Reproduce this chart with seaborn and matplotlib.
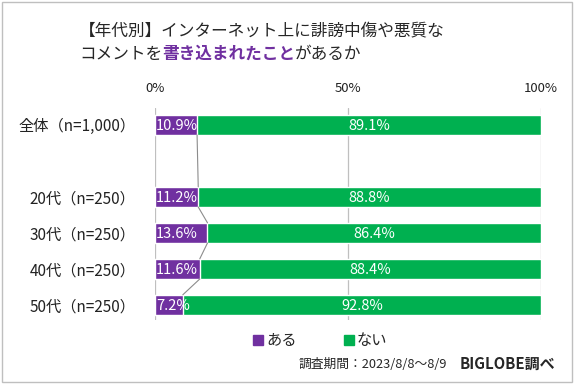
import matplotlib
matplotlib.use("Agg")
import matplotlib.pyplot as plt
import pandas as pd
import seaborn as sns
from matplotlib.patches import Rectangle
from matplotlib.lines import Line2D

# データ
categories = ["全体（n=1,000）", "", "20代（n=250）", "30代（n=250）", "40代（n=250）", "50代（n=250）"]
aru = [10.9, None, 11.2, 13.6, 11.6, 7.2]
nai = [89.1, None, 88.8, 86.4, 88.4, 92.8]
ticks = [0, 50, 100]
tick_labels = ["0%", "50%", "100%"]

PURPLE = "#7030A0"
GREEN = "#00B050"

sns.set_theme(style="white")
plt.rcParams["font.family"] = ["Noto Sans CJK JP", "DejaVu Sans"]

df = pd.DataFrame({"cat": categories, "aru": aru, "nai": nai}).dropna()
df["total"] = df["aru"] + df["nai"]

fig = plt.figure(figsize=(5.74, 3.84), dpi=100)
ax = fig.add_axes([155 / 574, 1 - 320 / 384, 386 / 574, 212 / 384])

sns.barplot(data=df, x="total", y="cat", order=categories, color=GREEN,
            width=0.56, orient="h", ax=ax, saturation=1, zorder=2)
sns.barplot(data=df, x="aru", y="cat", order=categories, color=PURPLE,
            width=0.56, orient="h", ax=ax, saturation=1, zorder=3)

ax.set_xlim(0, 100)
ax.set_ylim(5.42, -0.47)
ax.set_xlabel("")
ax.set_ylabel("")
ax.xaxis.tick_top()
ax.set_xticks(ticks)
ax.set_xticklabels(tick_labels, fontsize=9.5, color="#222222")
ax.tick_params(axis="x", length=0, pad=9)
ax.tick_params(axis="y", length=0, pad=14, labelsize=11, labelcolor="#222222")
for s in ax.spines.values():
    s.set_visible(False)
for t in ticks:
    ax.axvline(t, color="#BFBFBF", lw=0.9, zorder=1)

# 値ラベルとつなぎ線
pos = [i for i, c in enumerate(categories) if c]
vals_a = [a for a in aru if a is not None]
vals_n = [n for n in nai if n is not None]
for p, a, n in zip(pos, vals_a, vals_n):
    ax.text(0.3, p + 0.03, f"{a}%", color="white", fontsize=10.5, ha="left", va="center", zorder=5)
    ax.text(a + n / 2, p + 0.03, f"{n}%", color="white", fontsize=10.5, ha="center", va="center", zorder=5)
for i in range(len(pos) - 1):
    ax.plot([vals_a[i], vals_a[i + 1]], [pos[i] + 0.28, pos[i + 1] - 0.28],
            color="#8C8C8C", lw=0.8, zorder=4)

# タイトル
fig.text(79 / 574, 1 - 32 / 384, "【年代別】インターネット上に誹謗中傷や悪質な",
         fontsize=12, color="#262626", va="center")
renderer = fig.canvas.get_renderer()
x = 79 / 574
y2 = 1 - 54 / 384
for txt, kw in [("コメントを", dict(color="#262626")),
                ("書き込まれたこと", dict(color=PURPLE, fontweight="bold")),
                ("があるか", dict(color="#262626"))]:
    t = fig.text(x, y2, txt, fontsize=12, va="center", **kw)
    bb = t.get_window_extent(renderer=renderer)
    x += bb.width / fig.bbox.width

# 凡例
handles = [Line2D([], [], marker="s", ls="", color=PURPLE, markersize=7),
           Line2D([], [], marker="s", ls="", color=GREEN, markersize=7)]
fig.legend(handles, ["ある", "ない"], loc="center", bbox_to_anchor=(318 / 574, 1 - 341 / 384),
           ncol=2, frameon=False, fontsize=11, handletextpad=-0.1, columnspacing=2.8,
           handlelength=1.2)

# 出典
fig.text(447 / 574, 1 - 364 / 384, "調査期間：2023/8/8～8/9", fontsize=9.2,
         color="#262626", ha="right", va="center")
fig.text(555 / 574, 1 - 364 / 384, "BIGLOBE調べ", fontsize=10.8, fontweight="bold",
         color="#262626", ha="right", va="center")

fig.patches.append(Rectangle((0.003, 0.004), 0.994, 0.992, transform=fig.transFigure,
                             fill=False, edgecolor="#BFBFBF", lw=1))

fig.savefig("out.png", dpi=100)
